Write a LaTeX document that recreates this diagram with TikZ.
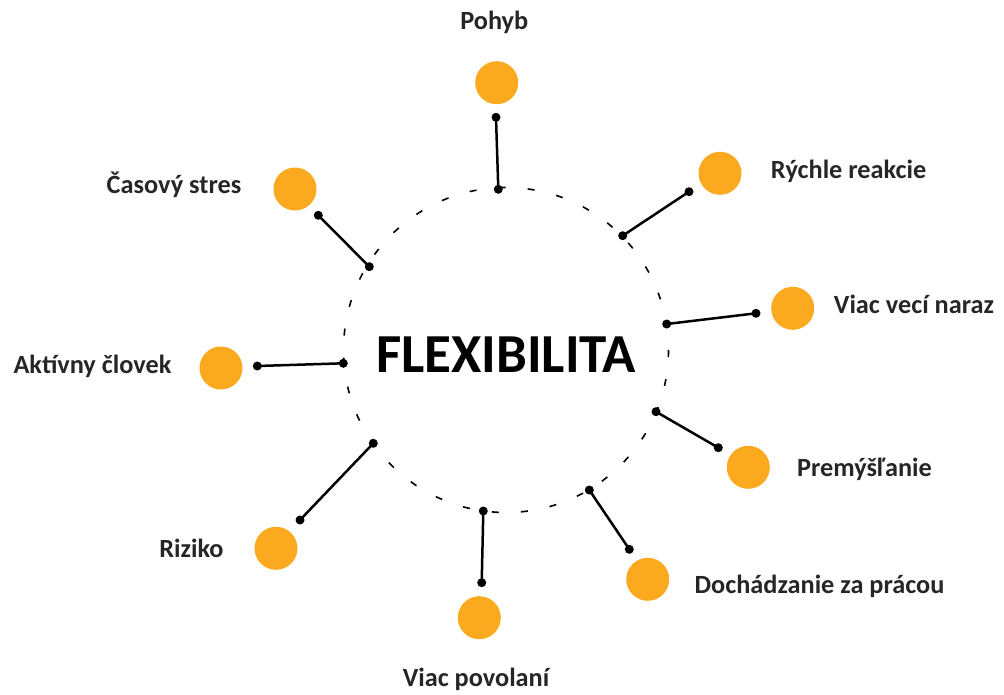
\documentclass[tikz,border=0pt]{standalone}
\usepackage{fontspec}
\setmainfont{Carlito}
\definecolor{discorange}{HTML}{FBAA1F}
\definecolor{labelgray}{HTML}{262626}
\tikzset{
  disc/.style={circle,fill=discorange,draw=none,minimum size=43pt,inner sep=0pt},
  enddot/.style={circle,fill=black,draw=none,minimum size=9pt,inner sep=0pt},
  link/.style={line width=2.5pt,black},
  lab/.style={font=\bfseries\fontsize{26.3}{30}\selectfont,text=labelgray,anchor=base,inner sep=0pt},
  ring/.style={line width=1.6pt,dash pattern=on 7pt off 22.17pt},
}
\begin{document}
\begin{tikzpicture}[x=1pt,y=-1pt]
\useasboundingbox (0,0) rectangle (1004,694);
\coordinate (c) at (506,350);
\draw[ring] (c) circle (162.5);
\node[font=\bfseries\fontsize{55}{62}\selectfont,anchor=base,inner sep=0pt] (title) at (506,372.7) {FLEXIBILITA};
% discs
\node[disc] (d1) at (496.7,82.7) {};
\node[disc] (d2) at (720,173.3) {};
\node[disc] (d3) at (792.7,308.3) {};
\node[disc] (d4) at (748.3,467.3) {};
\node[disc] (d5) at (647.7,579.3) {};
\node[disc] (d6) at (479.3,617.7) {};
\node[disc] (d7) at (276,548.3) {};
\node[disc] (d8) at (221,368) {};
\node[disc] (d9) at (295,189) {};
% inner dots
\node[enddot] (i1) at (498.3,189.3) {};
\node[enddot] (i2) at (622.7,235.7) {};
\node[enddot] (i3) at (666.7,324) {};
\node[enddot] (i4) at (656,411.7) {};
\node[enddot] (i5) at (589.3,490) {};
\node[enddot] (i6) at (483.3,511) {};
\node[enddot] (i7) at (373.3,443.3) {};
\node[enddot] (i8) at (343.3,363.3) {};
\node[enddot] (i9) at (369.3,266.7) {};
% outer dots
\node[enddot] (o1) at (496,117.3) {};
\node[enddot] (o2) at (689,191.7) {};
\node[enddot] (o3) at (756,313.3) {};
\node[enddot] (o4) at (718.3,447.7) {};
\node[enddot] (o5) at (629.3,549.3) {};
\node[enddot] (o6) at (481.7,582.7) {};
\node[enddot] (o7) at (300,520) {};
\node[enddot] (o8) at (257.3,366) {};
\node[enddot] (o9) at (318.3,215.3) {};
% connectors
\foreach \k in {1,...,9} {\draw[link] (i\k.center) -- (o\k.center);}
% labels
\node[lab] (l1) at (494.3,29.5) {Pohyb};
\node[lab] (l2) at (848.7,178.3) {Rýchle reakcie};
\node[lab] (l3) at (914,313.3) {Viac vecí naraz};
\node[lab] (l4) at (864.5,476.7) {Premýšľanie};
\node[lab] (l5) at (819.5,593.3) {Dochádzanie za prácou};
\node[lab] (l6) at (476,686) {Viac povolaní};
\node[lab] (l7) at (191.5,557.7) {Riziko};
\node[lab] (l8) at (92.5,373.3) {Aktívny človek};
\node[lab] (l9) at (174,193.3) {Časový stres};
\end{tikzpicture}
\end{document}
